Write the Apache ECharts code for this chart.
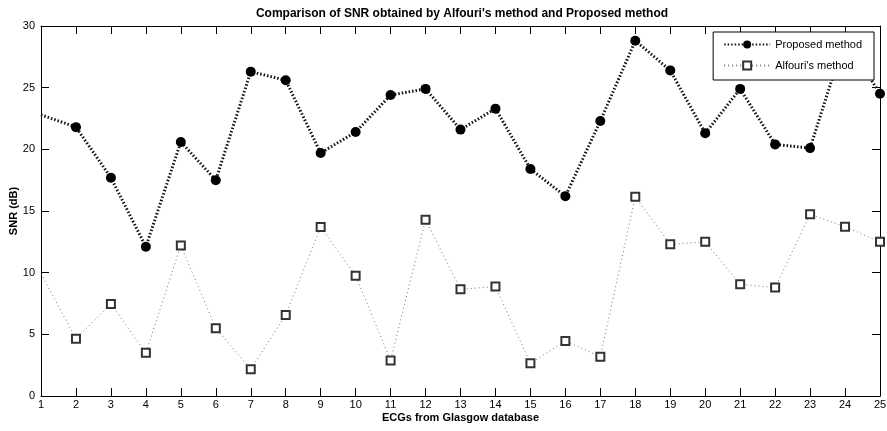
<!DOCTYPE html>
<html>
<head>
<meta charset="utf-8">
<script src="https://cdn.jsdelivr.net/npm/echarts@6/dist/echarts.min.js"></script>
<style>
  html, body { margin: 0; padding: 0; background: #fff; }
  #main { width: 887px; height: 431px; }
</style>
</head>
<body>
<div id="main"></div>
<script>
// ECG record numbers (x axis)
const ecgs = [1, 2, 3, 4, 5, 6, 7, 8, 9, 10, 11, 12, 13, 14, 15, 16, 17, 18, 19, 20, 21, 22, 23, 24, 25];
// SNR values (dB)
const proposed = [22.8, 21.8, 17.7, 12.1, 20.6, 17.5, 26.3, 25.6, 19.7, 21.4, 24.4, 24.9, 21.6, 23.3, 18.4, 16.2, 22.3, 28.8, 26.4, 21.3, 24.9, 20.4, 20.1, 29.0, 24.5];
const alfouri = [9.9, 4.65, 7.46, 3.5, 12.2, 5.5, 2.16, 6.57, 13.7, 9.76, 2.87, 14.3, 8.65, 8.87, 2.65, 4.46, 3.19, 16.16, 12.3, 12.5, 9.06, 8.79, 14.73, 13.73, 12.5];
const yTicks = [0, 5, 10, 15, 20, 25, 30];

const font = 'Liberation Sans, Arial, sans-serif';

// first point sits on the left border and shows no marker in the original
function toData(vals) {
  return vals.map(function (v, i) {
    const item = { value: [ecgs[i], v] };
    if (i === 0) item.symbol = 'none';
    return item;
  });
}

var myChart = echarts.init(document.getElementById('main'));

const axisCommon = {
  type: 'value',
  axisLine: { show: true, onZero: false, lineStyle: { color: '#000', width: 1 } },
  axisTick: { show: true, inside: true, length: 8, lineStyle: { color: '#000' } },
  splitLine: { show: false }
};

const option = {
  backgroundColor: '#fff',
  animation: false,
  title: {
    text: "Comparison of SNR obtained by Alfouri's method and Proposed method",
    left: 457,
    textAlign: 'center',
    top: 3,
    textStyle: { fontFamily: font, fontSize: 12, fontWeight: 'bold', color: '#000' }
  },
  // legend box sits on top of the lines, like the original
  legend: {
    zlevel: 1,
    orient: 'vertical',
    right: 13,
    top: 32,
    width: 160,
    padding: [7, 12, 9, 10],
    itemGap: 10,
    itemWidth: 46,
    itemHeight: 10,
    backgroundColor: '#fff',
    borderColor: '#000',
    borderWidth: 1,
    borderRadius: 0,
    textStyle: { fontFamily: font, fontSize: 11, color: '#000' },
    data: ['Proposed method', "Alfouri's method"]
  },
  grid: { left: 41, right: 7, top: 26, bottom: 35, outerBoundsMode: 'none' },
  xAxis: [
    Object.assign({}, axisCommon, {
      min: 1, max: 25, interval: 1,
      name: 'ECGs from Glasgow database',
      nameLocation: 'middle',
      nameGap: 16,
      nameMoveOverlap: false,
      nameTextStyle: { fontFamily: font, fontSize: 11, fontWeight: 'bold', color: '#000' },
      axisLabel: { fontFamily: font, fontSize: 11, color: '#000', margin: 3 }
    }),
    Object.assign({}, axisCommon, {
      position: 'top', min: 1, max: 25, interval: 1,
      axisLabel: { show: false }
    })
  ],
  yAxis: [
    Object.assign({}, axisCommon, {
      min: yTicks[0], max: yTicks[yTicks.length - 1], interval: 5,
      name: 'SNR (dB)',
      nameLocation: 'middle',
      nameGap: 22,
      nameMoveOverlap: false,
      nameTextStyle: { fontFamily: font, fontSize: 11, fontWeight: 'bold', color: '#000' },
      axisLabel: { fontFamily: font, fontSize: 11, color: '#000', margin: 6 }
    }),
    Object.assign({}, axisCommon, {
      position: 'right',
      min: yTicks[0], max: yTicks[yTicks.length - 1], interval: 5,
      axisLabel: { show: false }
    })
  ],
  series: [
    {
      name: "Alfouri's method",
      type: 'line',
      z: 2,
      data: toData(alfouri),
      symbol: 'emptyRect',
      symbolSize: 8,
      itemStyle: { color: '#333', borderWidth: 1.2 },
      lineStyle: { color: '#777', width: 1, type: [1, 3] }
    },
    {
      name: 'Proposed method',
      type: 'line',
      z: 3,
      data: toData(proposed),
      symbol: 'circle',
      symbolSize: 10,
      itemStyle: { color: '#000' },
      lineStyle: { color: '#111', width: 3, type: [1.5, 2], cap: 'butt' }
    }
  ]
};

myChart.setOption(option);
</script>
</body>
</html>
